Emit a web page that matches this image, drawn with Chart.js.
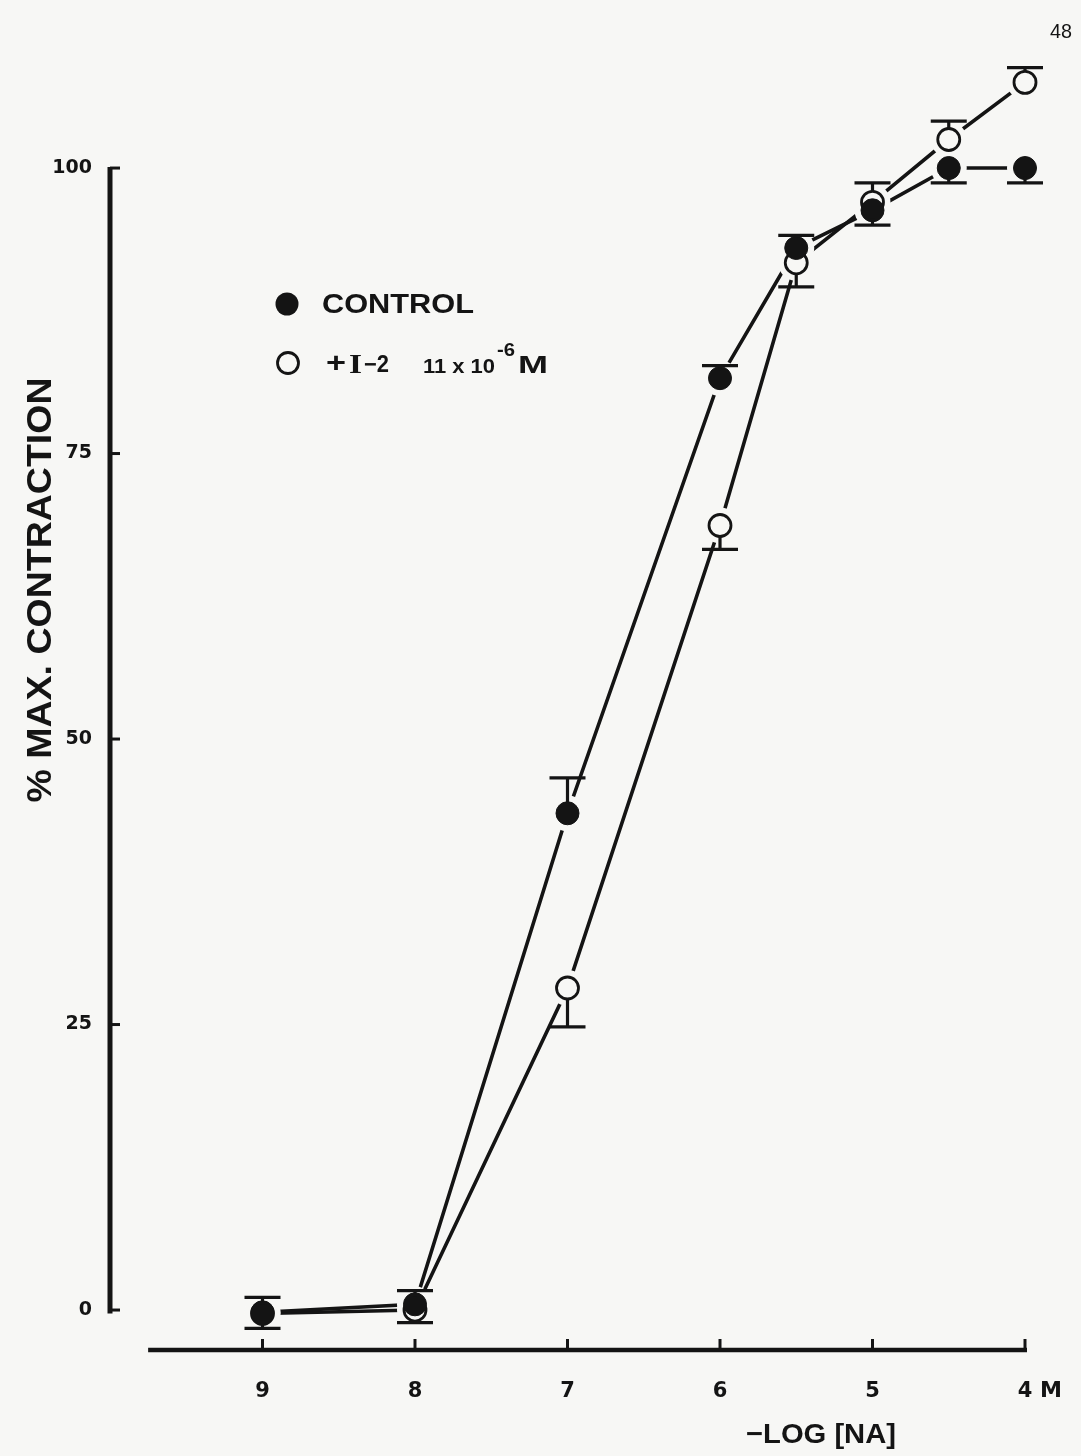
<!DOCTYPE html>
<html>
<head>
<meta charset="utf-8">
<script src="https://cdn.jsdelivr.net/npm/chart.js@4.4.1/dist/chart.umd.min.js"></script>
<style>
  html, body { margin: 0; padding: 0; background: #f7f7f5; }
  #wrap { width: 1081px; height: 1456px; }
</style>
</head>
<body>
<div id="wrap"><canvas id="c" width="1081" height="1456"></canvas></div>
<script>
// ---- data ----
const xValues       = [9, 8, 7, 6, 5.5, 5, 4.5, 4];          // -log [NA]
const controlValues = [-0.2, 0.5, 43.5, 81.6, 93.0, 96.3, 100.0, 100.0];
const controlErrHi  = [1.1, 1.7, 46.6, 82.7, 94.1, null, null, null];
const controlErrLo  = [-1.6, null, null, null, null, 95.0, 98.7, 98.7];
const i2Values      = [-0.3, 0.0, 28.2, 68.7, 91.7, 97.0, 102.5, 107.5];
const i2ErrHi       = [null, null, null, null, null, 98.7, 104.1, 108.8];
const i2ErrLo       = [null, -1.1, 24.8, 66.6, 89.6, null, null, null];
const xTickValues   = [9, 8, 7, 6, 5, 4];
const xTickLabels   = ['9', '8', '7', '6', '5', '4'];
const yTickValues   = [0, 25, 50, 75, 100];
const yTickLabels   = ['0', '25', '50', '75', '100'];
const seriesNames   = ['CONTROL', '+ I\u22122  11 x 10\u207B\u2076 M'];

const INK = '#141414';
const PAPER = '#f7f7f5';

function pts(vals) { return xValues.map((x, i) => ({ x: x, y: vals[i] })); }

function fitText(ctx, text, x, y, font, width, align) {
  ctx.save();
  ctx.font = font;
  const w = ctx.measureText(text).width;
  const s = width ? width / w : 1;
  ctx.translate(x, y);
  ctx.scale(s, 1);
  ctx.textAlign = align || 'left';
  ctx.fillText(text, 0, 0);
  ctx.restore();
}

const decor = {
  id: 'decor',
  beforeDatasetsDraw(chart) {
    const ctx = chart.ctx, xs = chart.scales.x, ys = chart.scales.y, ca = chart.chartArea;
    ctx.save();
    ctx.strokeStyle = INK;
    ctx.lineCap = 'butt';
    // y axis
    ctx.lineWidth = 5;
    ctx.beginPath();
    ctx.moveTo(ca.left, ys.getPixelForValue(100) - 1);
    ctx.lineTo(ca.left, ys.getPixelForValue(-0.3));
    ctx.stroke();
    ctx.lineWidth = 3;
    yTickValues.forEach(v => {
      const y = ys.getPixelForValue(v);
      ctx.beginPath(); ctx.moveTo(ca.left, y); ctx.lineTo(ca.left + 10, y); ctx.stroke();
    });
    // x axis
    const yb = ca.bottom;
    ctx.lineWidth = 4.5;
    ctx.beginPath();
    ctx.moveTo(xs.getPixelForValue(9.75), yb);
    ctx.lineTo(xs.getPixelForValue(4) + 2, yb);
    ctx.stroke();
    ctx.lineWidth = 3;
    xTickValues.forEach(v => {
      const x = xs.getPixelForValue(v);
      ctx.beginPath(); ctx.moveTo(x, yb); ctx.lineTo(x, yb - 11); ctx.stroke();
    });
    ctx.restore();
  },
  afterDatasetsDraw(chart) {
    const ctx = chart.ctx, xs = chart.scales.x, ys = chart.scales.y;
    ctx.save();
    ctx.strokeStyle = INK;
    ctx.lineWidth = 3.2;
    const drawErr = (vals, ends, r) => {
      ends.forEach((e, i) => {
        if (e === null) return;
        const x = xs.getPixelForValue(xValues[i]);
        const y0 = ys.getPixelForValue(vals[i]);
        const y1 = ys.getPixelForValue(e);
        const dir = y1 < y0 ? -1 : 1;
        ctx.beginPath();
        ctx.moveTo(x, y0 + dir * r);
        ctx.lineTo(x, y1);
        ctx.stroke();
        ctx.beginPath();
        ctx.moveTo(x - 18, y1);
        ctx.lineTo(x + 18, y1);
        ctx.stroke();
      });
    };
    drawErr(i2Values, i2ErrHi, 11);
    drawErr(i2Values, i2ErrLo, 11);
    drawErr(controlValues, controlErrHi, 8);
    drawErr(controlValues, controlErrLo, 8);
    ctx.restore();
  },
  afterDraw(chart) {
    const ctx = chart.ctx;
    ctx.save();
    ctx.fillStyle = INK;
    ctx.textBaseline = 'alphabetic';
    // y title
    ctx.save();
    ctx.translate(51, 590);
    ctx.rotate(-Math.PI / 2);
    fitText(ctx, '% MAX. CONTRACTION', 0, 0, 'bold 35px "Liberation Sans"', 425, 'center');
    ctx.restore();
    // x title
    fitText(ctx, '\u2212LOG [NA]', 746, 1443, 'bold 28px "Liberation Sans"', 150, 'left');
    // unit after last tick
    fitText(ctx, 'M', 1040, 1397, 'bold 22px "DejaVu Sans"', 22, 'left');
    // page number
    fitText(ctx, '48', 1050, 38, '21px "Liberation Sans"', 22, 'left');
    // legend
    ctx.beginPath(); ctx.arc(287, 304, 11.5, 0, Math.PI * 2); ctx.fill();
    fitText(ctx, seriesNames[0], 322, 313, '600 27px "Liberation Sans"', 152, 'left');
    ctx.lineWidth = 2.8; ctx.strokeStyle = INK;
    ctx.beginPath(); ctx.arc(288, 363, 10.5, 0, Math.PI * 2); ctx.stroke();
    fitText(ctx, '+', 326, 372, 'bold 27px "Liberation Sans"', 20, 'left');
    fitText(ctx, 'I', 349, 373, 'bold 27px "Liberation Serif"', 13, 'left');
    fitText(ctx, '\u22122', 364, 372, '600 23px "Liberation Sans"', 25, 'left');
    fitText(ctx, '11 x 10', 423, 373, '600 21px "Liberation Sans"', 72, 'left');
    fitText(ctx, '-6', 497, 356, '600 18px "Liberation Sans"', 18, 'left');
    fitText(ctx, 'M', 518, 373, '600 24px "Liberation Sans"', 30, 'left');
    ctx.restore();
  }
};

new Chart(document.getElementById('c'), {
  type: 'scatter',
  data: {
    datasets: [
      { label: 'control line', data: pts(controlValues), showLine: true, borderColor: INK, borderWidth: 3.6, pointRadius: 0, order: 5, clip: false },
      { label: 'i2 line', data: pts(i2Values), showLine: true, borderColor: INK, borderWidth: 3.6, pointRadius: 0, order: 5, clip: false },
      { label: 'halo c', data: pts(controlValues), showLine: false, pointRadius: 18, pointBackgroundColor: PAPER, pointBorderWidth: 0, order: 4, clip: false },
      { label: 'halo i', data: pts(i2Values), showLine: false, pointRadius: 18, pointBackgroundColor: PAPER, pointBorderWidth: 0, order: 4, clip: false },
      { label: seriesNames[1], data: pts(i2Values), showLine: false, pointRadius: 11, pointBackgroundColor: PAPER, pointBorderColor: INK, pointBorderWidth: 2.8, order: 2, clip: false },
      { label: seriesNames[0], data: pts(controlValues), showLine: false, pointRadius: 11.5, pointBackgroundColor: INK, pointBorderColor: INK, pointBorderWidth: 1, order: 1, clip: false }
    ]
  },
  options: {
    responsive: false,
    animation: false,
    events: [],
    layout: { padding: { left: 0, top: 31, right: 56, bottom: 0 } },
    plugins: { legend: { display: false }, tooltip: { enabled: false } },
    scales: {
      x: {
        type: 'linear', reverse: true, min: 4, max: 10,
        afterBuildTicks: s => { s.ticks = xTickValues.map(v => ({ value: v })); },
        afterFit: s => { s.height = 106; },
        grid: { display: false, drawTicks: false },
        border: { display: false },
        ticks: {
          autoSkip: false, maxRotation: 0, padding: 29, color: INK,
          font: { family: 'DejaVu Sans', weight: 'bold', size: 21 },
          callback: v => xTickLabels[xTickValues.indexOf(v)]
        }
      },
      y: {
        type: 'linear', min: -3.5, max: 112,
        afterBuildTicks: s => { s.ticks = yTickValues.map(v => ({ value: v })); },
        afterFit: s => { s.width = 110; },
        grid: { display: false, drawTicks: false },
        border: { display: false },
        ticks: {
          padding: 18, color: INK,
          font: { family: 'DejaVu Sans', weight: 'bold', size: 19 },
          callback: v => yTickLabels[yTickValues.indexOf(v)]
        }
      }
    }
  },
  plugins: [decor]
});
</script>
</body>
</html>
